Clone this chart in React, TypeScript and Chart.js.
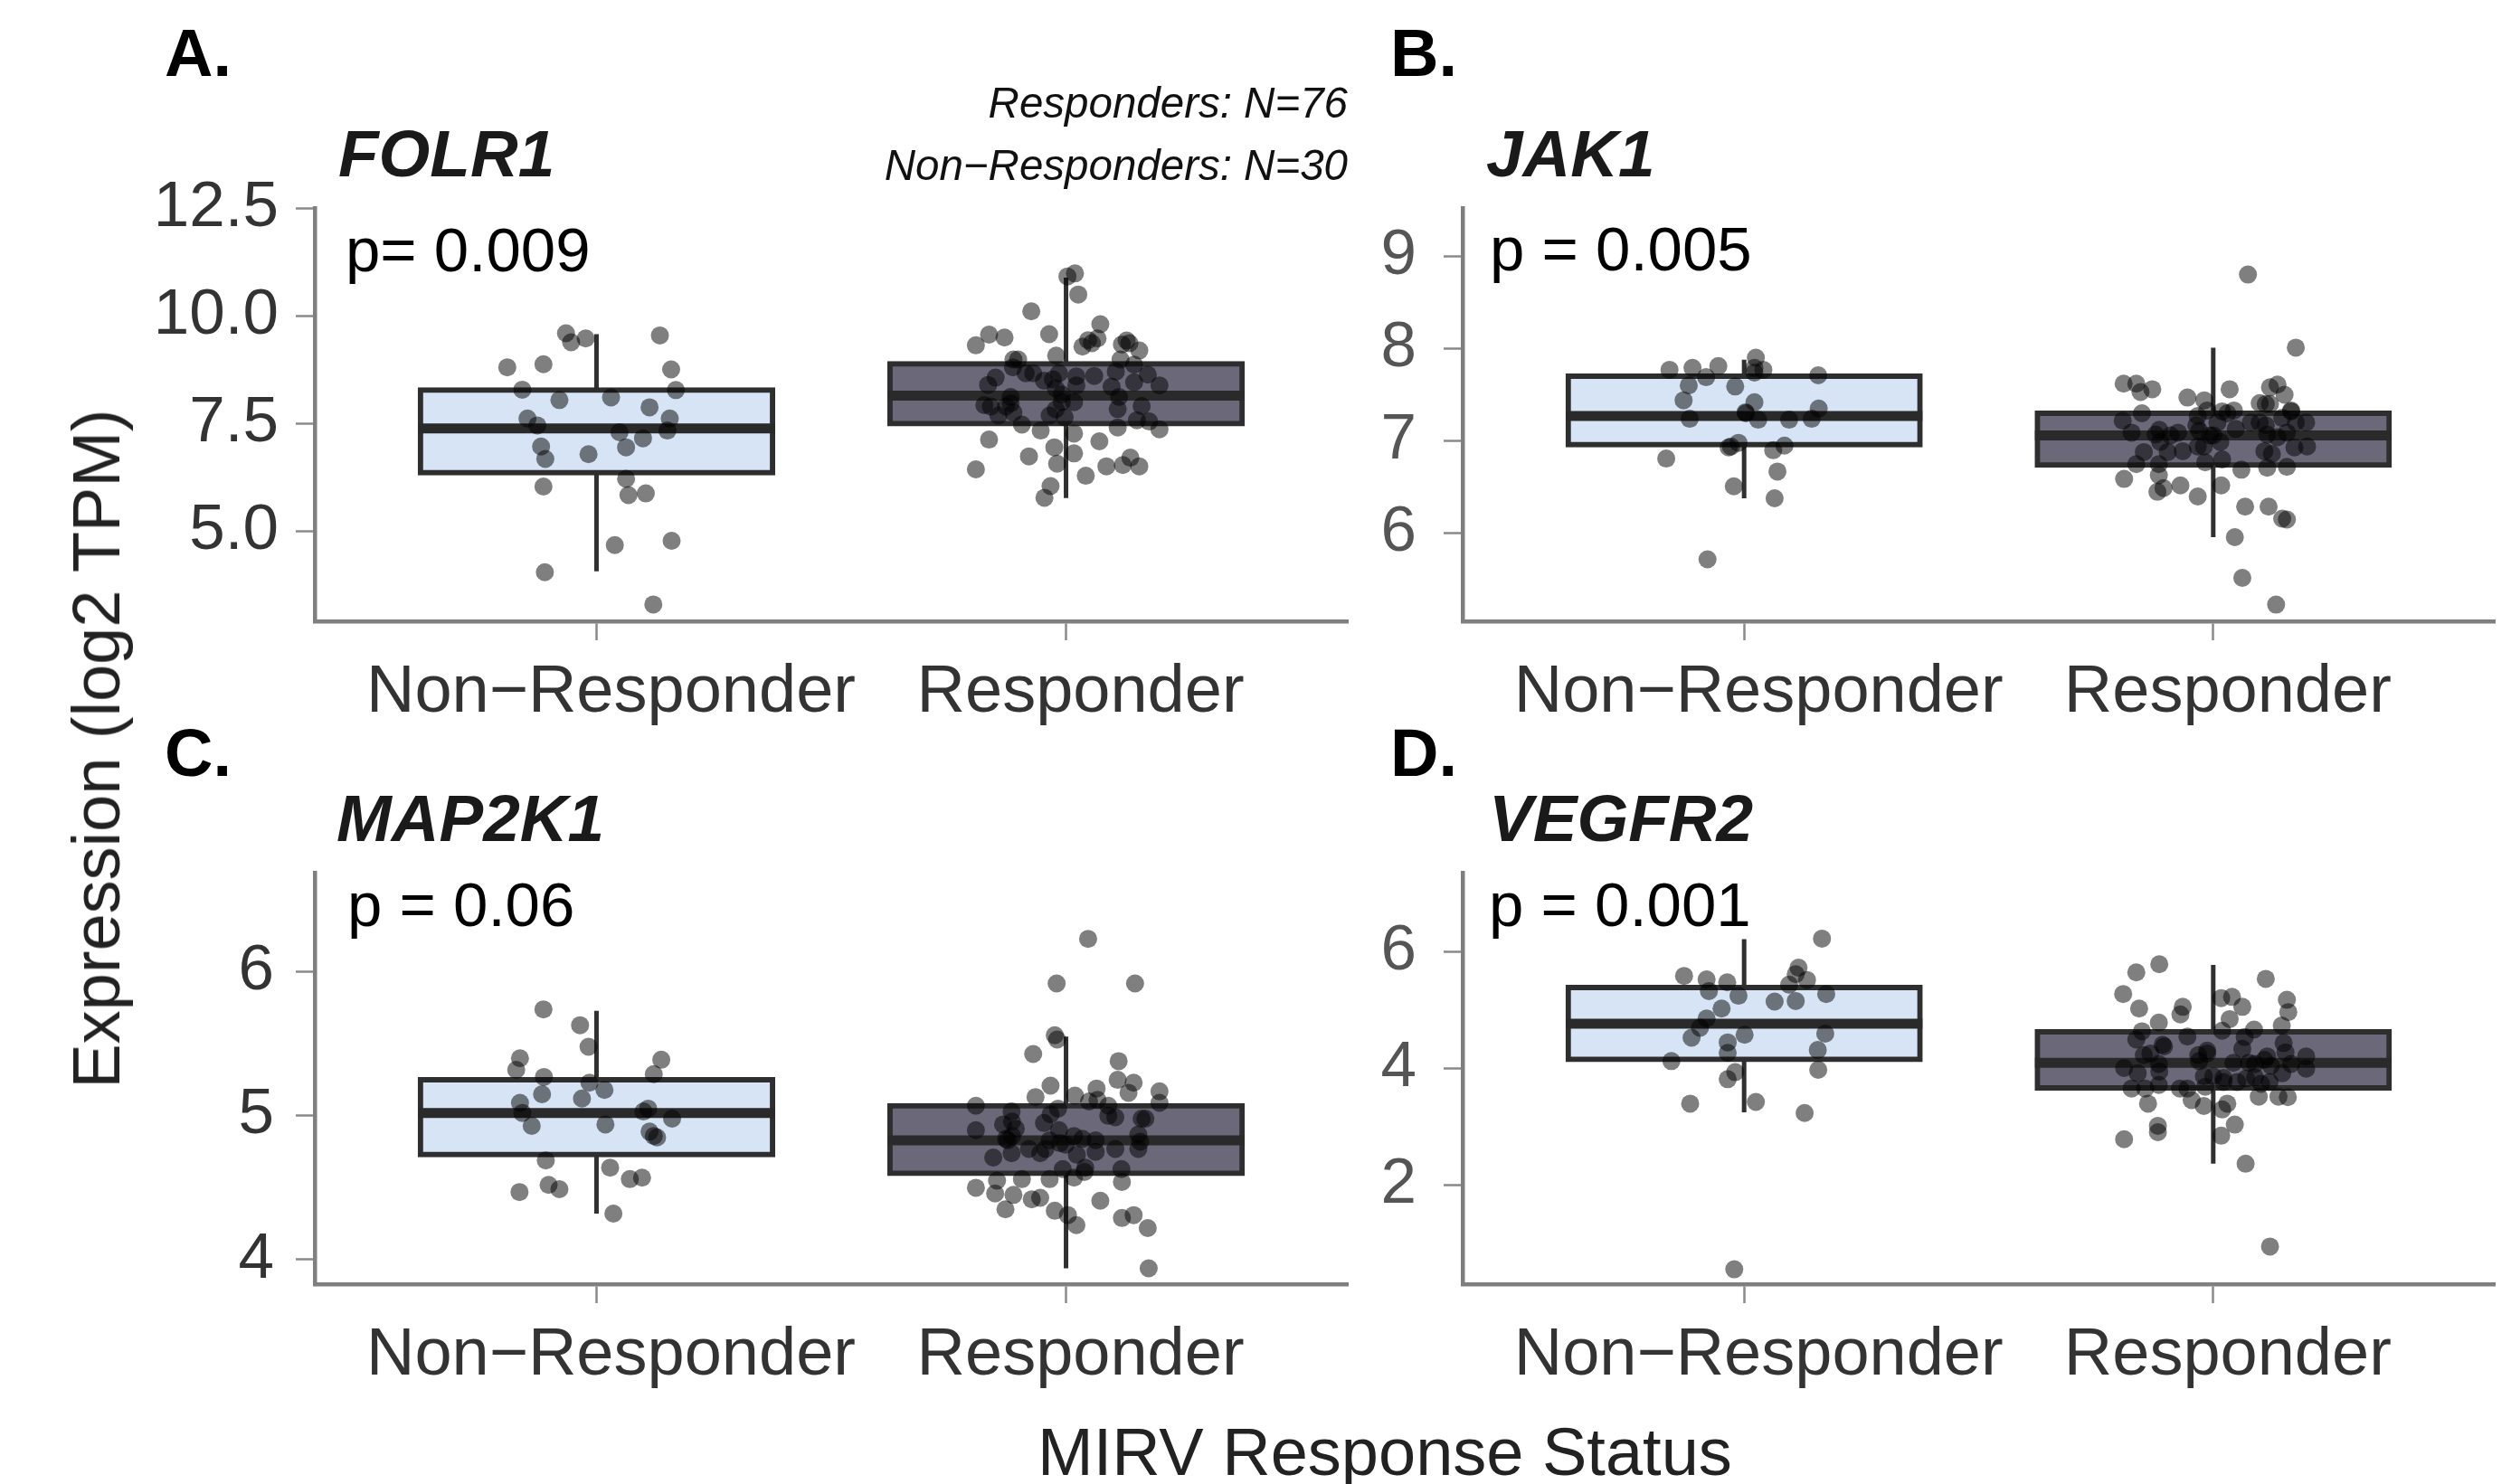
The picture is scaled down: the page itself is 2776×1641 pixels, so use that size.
import React, { useEffect, useRef } from 'react';
import { Chart, registerables } from 'chart.js';

Chart.register(...registerables);

// ---------------- data ----------------
const categories = ['Non\u2212Responder', 'Responder'];

// box stats: [lower whisker, Q1, median, Q3, upper whisker]
// Panel A - FOLR1
const folr1Ticks = [5, 7.5, 10, 12.5];
const folr1NonResponderBox = [4.06, 6.35, 7.38, 8.27, 9.57];
const folr1ResponderBox = [5.76, 7.49, 8.14, 8.88, 10.88];
const folr1NonResponder = [9.59, 9.38, 9.47, 9.54, 8.8, 8.87, 8.75, 8.28, 8.27, 8.04, 8.1, 7.87, 7.61, 7.45, 7.61, 7.33, 7.29, 7.15, 6.94, 6.96, 6.67, 6.78, 6.03, 6.21, 5.83, 5.87, 4.67, 4.77, 4.04, 3.29];
const folr1NonResponderJitter = [-0.065, -0.054, -0.023, 0.135, -0.19, -0.113, 0.159, -0.158, 0.169, -0.079, 0.031, 0.113, -0.147, -0.126, 0.156, 0.151, 0.049, 0.099, 0.063, -0.118, -0.109, -0.017, -0.113, 0.063, 0.068, 0.105, 0.039, 0.16, -0.11, 0.121];
const folr1Responder = [10.91, 10.98, 10.49, 10.1, 9.8, 9.56, 9.49, 9.31, 9.57, 9.43, 9.47, 9.28, 9.42, 9.33, 9.19, 9.07, 8.98, 8.98, 8.98, 8.86, 8.8, 8.66, 8.56, 8.39, 8.52, 8.66, 8.59, 8.6, 8.7, 8.63, 8.38, 8.35, 8.45, 8.38, 8.31, 8.17, 8.11, 8.11, 7.92, 7.89, 7.96, 7.99, 7.99, 7.83, 7.9, 7.68, 7.75, 7.68, 7.64, 7.57, 7.54, 7.47, 7.33, 7.4, 7.36, 7.12, 7.26, 7.08, 6.94, 6.73, 6.8, 6.56, 6.5, 6.53, 6.7, 6.5, 6.43, 6.28, 6.04, 5.77, 7.82, 8.49, 9.36, 8.66, 9.36, 7.89];
const folr1ResponderJitter = [0.003, 0.019, 0.026, -0.074, 0.073, -0.164, -0.131, -0.192, -0.036, 0.047, 0.067, 0.035, 0.129, 0.119, 0.156, -0.021, -0.112, -0.102, 0.116, 0.145, -0.113, -0.07, -0.15, -0.166, -0.028, -0.015, 0.022, 0.06, 0.106, 0.174, 0.199, 0.097, 0.145, 0.022, -0.022, -0.009, -0.118, 0.113, -0.174, -0.16, -0.118, -0.009, 0.017, 0.11, 0.161, -0.144, -0.112, -0.035, -0.003, 0.151, 0.177, -0.094, -0.054, 0.11, 0.199, -0.164, 0.017, 0.071, -0.025, -0.079, 0.017, -0.019, 0.086, 0.121, 0.137, 0.156, -0.192, 0.042, -0.033, -0.046, -0.022, -0.047, 0.055, -0.086, 0.135, -0.128];

// Panel B - JAK1
const jak1Ticks = [6, 7, 8, 9];
const jak1NonResponderBox = [6.38, 6.96, 7.27, 7.7, 7.88];
const jak1ResponderBox = [5.96, 6.74, 7.06, 7.3, 8.01];
const jak1NonResponder = [7.77, 7.79, 7.81, 7.69, 7.9, 7.74, 7.77, 7.71, 7.6, 7.59, 7.44, 7.42, 7.35, 7.24, 7.31, 7.23, 7.23, 7.24, 6.93, 6.98, 6.9, 6.95, 6.81, 6.67, 6.51, 6.38, 5.72, 7.79, 7.3, 6.94];
const jak1NonResponderJitter = [-0.159, -0.11, -0.055, -0.081, 0.025, 0.022, 0.041, 0.158, -0.118, -0.019, -0.129, 0.022, 0.159, -0.116, 0.003, 0.03, 0.096, 0.144, -0.033, -0.012, 0.062, 0.086, -0.166, 0.071, -0.022, 0.065, -0.078, 0.022, 0.004, -0.028];
const jak1Responder = [8.8, 8.01, 7.62, 7.62, 7.56, 7.53, 7.47, 7.44, 7.56, 7.58, 7.61, 7.5, 7.41, 7.4, 7.4, 7.32, 7.3, 7.22, 7.27, 7.33, 7.32, 7.33, 7.2, 7.25, 7.17, 7.09, 7.12, 7.09, 7.11, 7.06, 7.2, 7.13, 7.09, 6.88, 6.99, 6.88, 6.89, 6.94, 6.99, 6.89, 6.86, 6.93, 6.94, 6.75, 6.75, 6.77, 6.8, 6.69, 6.71, 6.72, 6.59, 6.63, 6.45, 6.49, 6.52, 6.4, 6.52, 6.29, 6.29, 6.16, 6.15, 5.96, 5.52, 5.23, 7.07, 7.04, 7.17, 7.06, 7.06, 7.07, 7.2, 7.2, 7.2, 7.3, 6.94, 7.33];
const jak1ResponderJitter = [0.074, 0.176, -0.191, -0.164, -0.13, -0.155, -0.055, -0.019, 0.035, 0.121, 0.137, 0.152, 0.099, 0.112, 0.121, 0.166, -0.152, -0.193, -0.033, -0.013, 0.019, 0.044, 0.198, 0.147, 0.112, -0.174, -0.115, -0.075, -0.03, -0.007, 0.009, 0.048, 0.157, -0.148, -0.113, -0.097, -0.065, -0.033, 0.015, 0.109, 0.125, 0.173, 0.2, -0.164, -0.116, -0.017, 0.019, 0.06, 0.115, 0.157, -0.19, -0.116, -0.119, -0.106, -0.07, -0.033, 0.017, 0.068, 0.118, 0.147, 0.157, 0.046, 0.062, 0.134, 0.115, 0.137, -0.036, 0.0, -0.091, -0.123, 0.176, 0.08, 0.099, 0.03, -0.02, 0.166];

// Panel C - MAP2K1
const map2k1Ticks = [4, 5, 6];
const map2k1NonResponderBox = [4.32, 4.73, 5.02, 5.25, 5.73];
const map2k1ResponderBox = [3.94, 4.6, 4.83, 5.07, 5.55];
const map2k1NonResponder = [5.74, 5.63, 5.48, 5.4, 5.32, 5.39, 5.29, 5.27, 5.23, 5.18, 5.15, 5.12, 5.09, 5.02, 4.93, 4.94, 5.03, 5.05, 4.98, 4.89, 4.86, 4.85, 4.69, 4.64, 4.56, 4.57, 4.47, 4.52, 4.49, 4.32];
const map2k1NonResponderJitter = [-0.113, -0.035, -0.017, -0.163, -0.171, 0.138, 0.122, -0.112, -0.015, 0.017, -0.116, -0.031, -0.163, -0.158, -0.138, 0.019, 0.1, 0.11, 0.161, 0.113, 0.122, 0.129, -0.108, 0.029, 0.071, 0.097, -0.164, -0.102, -0.079, 0.036];
const map2k1Responder = [6.23, 5.92, 5.92, 5.56, 5.53, 5.43, 5.38, 5.21, 5.25, 5.23, 5.17, 5.09, 5.13, 5.14, 5.19, 5.16, 5.1, 5.11, 5.07, 5.07, 5.03, 5.05, 5.01, 4.99, 4.98, 4.98, 4.95, 4.96, 4.9, 4.91, 4.9, 4.86, 4.84, 4.86, 4.83, 4.83, 4.81, 4.84, 4.83, 4.87, 4.82, 4.77, 4.77, 4.74, 4.74, 4.71, 4.8, 4.73, 4.75, 4.77, 4.63, 4.64, 4.63, 4.61, 4.55, 4.56, 4.56, 4.57, 4.54, 4.5, 4.46, 4.45, 4.42, 4.43, 4.41, 4.35, 4.34, 4.31, 4.24, 4.29, 4.31, 4.22, 3.94, 5.0, 4.94, 4.77];
const map2k1ResponderJitter = [0.047, -0.02, 0.147, -0.024, -0.019, -0.07, 0.112, -0.033, 0.11, 0.144, 0.199, 0.199, -0.065, 0.019, 0.065, 0.133, 0.049, 0.067, 0.09, -0.192, -0.116, -0.017, -0.033, 0.105, 0.161, 0.169, -0.047, -0.115, -0.192, -0.107, -0.015, 0.017, -0.128, -0.115, -0.124, -0.035, -0.013, 0.035, 0.063, 0.154, 0.158, 0.154, -0.079, -0.055, -0.116, -0.155, -0.001, 0.023, 0.063, 0.105, -0.007, 0.041, 0.118, 0.039, -0.147, -0.094, -0.035, 0.017, 0.119, -0.192, -0.151, -0.112, -0.073, -0.055, 0.073, -0.129, -0.024, 0.004, 0.022, 0.119, 0.144, 0.174, 0.176, 0.09, -0.134, -0.044];

// Panel D - VEGFR2
const vegfr2Ticks = [2, 4, 6];
const vegfr2NonResponderBox = [3.24, 4.15, 4.76, 5.38, 6.21];
const vegfr2ResponderBox = [2.36, 3.66, 4.09, 4.62, 5.77];
const vegfr2NonResponder = [6.22, 5.58, 5.52, 5.47, 5.32, 5.24, 5.72, 5.61, 5.51, 5.43, 5.27, 5.14, 5.15, 5.02, 4.85, 4.69, 4.52, 4.57, 4.44, 4.26, 4.59, 4.31, 4.12, 3.97, 3.93, 3.81, 3.39, 3.42, 3.23, 0.55];
const vegfr2NonResponderJitter = [0.166, -0.128, -0.08, -0.036, -0.075, -0.012, 0.116, 0.11, 0.134, 0.096, 0.175, 0.065, 0.11, -0.048, -0.08, -0.094, -0.112, 0.001, -0.035, -0.035, 0.173, 0.157, -0.155, 0.158, -0.019, -0.035, -0.115, 0.025, 0.129, -0.021];
const vegfr2Responder = [5.78, 5.64, 5.53, 5.27, 5.02, 5.05, 4.92, 5.2, 5.22, 5.05, 4.84, 5.17, 4.96, 4.78, 4.63, 4.64, 4.66, 4.73, 4.49, 4.54, 4.4, 4.37, 4.43, 4.25, 4.3, 4.33, 4.2, 4.27, 4.2, 4.12, 4.09, 4.09, 4.14, 4.04, 4.0, 3.91, 3.94, 3.86, 3.83, 3.82, 3.91, 3.99, 3.65, 3.65, 3.71, 3.65, 3.68, 3.76, 3.73, 3.76, 3.39, 3.35, 3.29, 3.39, 3.51, 3.51, 3.5, 3.01, 2.9, 2.78, 3.03, 2.84, 2.36, 0.94, 4.25, 4.22, 4.07, 4.07, 4.22, 3.65, 3.76, 4.07, 3.84, 3.86, 3.45, 4.53];
const vegfr2ResponderJitter = [-0.115, -0.164, 0.112, -0.192, -0.158, -0.065, -0.07, 0.017, 0.04, 0.062, 0.035, 0.157, 0.16, -0.116, -0.152, 0.019, 0.087, 0.146, -0.164, -0.055, -0.108, -0.105, 0.15, -0.134, -0.013, 0.062, 0.115, 0.154, 0.198, -0.03, 0.043, 0.076, 0.109, 0.123, -0.19, -0.161, -0.115, -0.02, 0.022, 0.07, 0.147, 0.198, -0.174, -0.145, -0.116, -0.055, -0.017, 0.051, 0.102, 0.12, -0.139, -0.02, 0.019, 0.03, 0.097, 0.139, 0.159, -0.118, -0.118, -0.19, 0.046, 0.017, 0.069, 0.121, -0.013, -0.032, 0.089, -0.116, -0.148, -0.071, 0.022, 0.166, 0.089, 0.0, -0.046, 0.067];

// ---------------- styles / layout ----------------
const FONT = "'Liberation Sans', Arial, Helvetica, sans-serif";
const BOX_FILLS = ['#D6E4F5', '#6B687A'];
const BOX_WIDTH = 0.75;
const BOX_BORDER = 6;
const Y_AXIS_W = 220;
const X_AXIS_H = 150;
const PAD_TOP = 100;
const PAD_RIGHT = 18;

type PanelSpec = {
  area: { left: number; top: number; right: number; bottom: number };
  yMin: number;
  yMax: number;
  yTicks: number[];
  decimals: number;
  boxes: number[][];
  values: number[][];
  jitter: number[][];
  tickColor: string;
  tickPad: number;
};

const panels: PanelSpec[] = [
  {
    area: { left: 348, top: 230, right: 1490, bottom: 687 },
    yMin: 2.9, yMax: 12.5, yTicks: folr1Ticks, decimals: 1,
    boxes: [folr1NonResponderBox, folr1ResponderBox],
    values: [folr1NonResponder, folr1Responder],
    jitter: [folr1NonResponderJitter, folr1ResponderJitter],
    tickColor: '#333333', tickPad: 19,
  },
  {
    area: { left: 1617, top: 230, right: 2758, bottom: 687 },
    yMin: 5.05, yMax: 9.52, yTicks: jak1Ticks, decimals: 0,
    boxes: [jak1NonResponderBox, jak1ResponderBox],
    values: [jak1NonResponder, jak1Responder],
    jitter: [jak1NonResponderJitter, jak1ResponderJitter],
    tickColor: '#555555', tickPad: 30,
  },
  {
    area: { left: 348, top: 965, right: 1490, bottom: 1420 },
    yMin: 3.83, yMax: 6.69, yTicks: map2k1Ticks, decimals: 0,
    boxes: [map2k1NonResponderBox, map2k1ResponderBox],
    values: [map2k1NonResponder, map2k1Responder],
    jitter: [map2k1NonResponderJitter, map2k1ResponderJitter],
    tickColor: '#333333', tickPad: 24,
  },
  {
    area: { left: 1617, top: 965, right: 2758, bottom: 1420 },
    yMin: 0.295, yMax: 7.35, yTicks: vegfr2Ticks, decimals: 0,
    boxes: [vegfr2NonResponderBox, vegfr2ResponderBox],
    values: [vegfr2NonResponder, vegfr2Responder],
    jitter: [vegfr2NonResponderJitter, vegfr2ResponderJitter],
    tickColor: '#555555', tickPad: 30,
  },
];

function BoxPanel({ spec }: { spec: PanelSpec }) {
  const ref = useRef<HTMLCanvasElement>(null);
  const { area } = spec;
  const width = Y_AXIS_W + (area.right - area.left) + PAD_RIGHT;
  const height = PAD_TOP + (area.bottom - area.top) + X_AXIS_H;

  useEffect(() => {
    const canvas = ref.current;
    if (!canvas) return;
    const datasets: any[] = [];
    // whiskers (behind the boxes)
    spec.boxes.forEach((b, i) => {
      datasets.push({
        type: 'line',
        data: [{ x: i + 1, y: b[0] }, { x: i + 1, y: b[4] }],
        borderColor: '#303030',
        borderWidth: 5,
        pointRadius: 0,
        borderCapStyle: 'butt',
        fill: false,
        order: 3,
      });
    });
    // boxes Q1..Q3 (border centred on the box edge via inflateAmount)
    datasets.push({
      type: 'bar',
      data: spec.boxes.map((b, i) => ({ x: i + 1, y: [b[1], b[3]] })),
      backgroundColor: BOX_FILLS,
      borderColor: '#2e2e2e',
      borderWidth: BOX_BORDER,
      inflateAmount: BOX_BORDER / 2,
      borderSkipped: false,
      barPercentage: BOX_WIDTH,
      categoryPercentage: 1,
      order: 2,
    });
    // medians
    const half = BOX_WIDTH / 2 + 0.005;
    spec.boxes.forEach((b, i) => {
      datasets.push({
        type: 'line',
        data: [{ x: i + 1 - half, y: b[2] }, { x: i + 1 + half, y: b[2] }],
        borderColor: '#2a2a2a',
        borderWidth: 11,
        pointRadius: 0,
        borderCapStyle: 'butt',
        fill: false,
        order: 1,
      });
    });
    // jittered points
    spec.values.forEach((vals, i) => {
      datasets.push({
        type: 'scatter',
        data: vals.map((v, k) => ({ x: i + 1 + (spec.jitter[i][k] ?? 0), y: v })),
        backgroundColor: 'rgba(0,0,0,0.5)',
        borderWidth: 0,
        pointBorderWidth: 0,
        pointRadius: 10,
        pointHoverRadius: 10,
        order: 0,
      });
    });

    const gridOpts = {
      display: true,
      drawOnChartArea: false,
      drawTicks: true,
      tickLength: 21,
      tickColor: '#8a8a8a',
      tickWidth: 2.5,
      offset: false,
    };
    const borderOpts = { display: true, color: '#7f7f7f', width: 4.5 };

    const chart = new Chart(canvas, {
      type: 'scatter',
      data: { datasets },
      options: {
        responsive: false,
        animation: false,
        devicePixelRatio: 1,
        events: [],
        layout: { padding: { top: PAD_TOP, right: PAD_RIGHT, left: 0, bottom: 0 } },
        plugins: { legend: { display: false }, tooltip: { enabled: false } },
        scales: {
          x: {
            type: 'linear',
            min: 0.4,
            max: 2.6,
            offset: false,
            afterBuildTicks: (s: any) => {
              s.ticks = categories.map((_, i) => ({ value: i + 1 }));
            },
            afterFit: (s: any) => {
              s.height = X_AXIS_H;
            },
            grid: gridOpts,
            border: borderOpts,
            ticks: {
              color: '#333333',
              font: { family: FONT, size: 74, lineHeight: 1.2 },
              padding: 14,
              labelOffset: 16,
              maxRotation: 0,
              minRotation: 0,
              autoSkip: false,
              callback: (v: any) => categories[Math.round(Number(v)) - 1] ?? '',
            },
          },
          y: {
            type: 'linear',
            min: spec.yMin,
            max: spec.yMax,
            beginAtZero: false,
            afterBuildTicks: (s: any) => {
              s.ticks = spec.yTicks.map((v) => ({ value: v }));
            },
            afterFit: (s: any) => {
              s.width = Y_AXIS_W;
            },
            grid: gridOpts,
            border: borderOpts,
            ticks: {
              color: spec.tickColor,
              font: { family: FONT, size: 71, lineHeight: 1.2 },
              padding: spec.tickPad,
              autoSkip: false,
              callback: (v: any) => Number(v).toFixed(spec.decimals),
            },
          },
        },
      } as any,
    });
    return () => chart.destroy();
  }, [spec]);

  return (
    <canvas
      ref={ref}
      width={width}
      height={height}
      style={{
        position: 'absolute',
        left: area.left - Y_AXIS_W,
        top: area.top - PAD_TOP,
        width,
        height,
      }}
    />
  );
}

type TxtProps = {
  x: number;
  baseline: number;
  size: number;
  text: string;
  weight?: string;
  italic?: boolean;
  color?: string;
  alignRight?: boolean;
};

function Txt({ x, baseline, size, text, weight = 'normal', italic = false, color = '#000', alignRight = false }: TxtProps) {
  const top = baseline - 0.8465 * size;
  const style: React.CSSProperties = {
    position: 'absolute',
    top,
    fontFamily: FONT,
    fontSize: size,
    lineHeight: `${size}px`,
    fontWeight: weight as any,
    fontStyle: italic ? 'italic' : 'normal',
    color,
    whiteSpace: 'nowrap',
    margin: 0,
  };
  if (alignRight) style.right = 2776 - x;
  else style.left = x;
  return <div style={style}>{text}</div>;
}

export default function App() {
  useEffect(() => {
    document.body.style.overflow = 'hidden';
    document.documentElement.style.overflow = 'hidden';
  }, []);

  return (
    <div
      style={{
        position: 'absolute',
        left: 0,
        top: 0,
        width: 2776,
        height: 1641,
        background: '#ffffff',
        overflow: 'hidden',
        fontFamily: FONT,
      }}
    >
      {panels.map((p, i) => (
        <BoxPanel key={i} spec={p} />
      ))}

      <Txt x={182} baseline={85} size={74} text="A." weight="bold" />
      <Txt x={1537} baseline={85} size={74} text="B." weight="bold" />
      <Txt x={182} baseline={859} size={74} text="C." weight="bold" />
      <Txt x={1537} baseline={859} size={74} text="D." weight="bold" />

      <Txt x={374} baseline={195} size={73} text="FOLR1" weight="bold" italic color="#1a1a1a" />
      <Txt x={1643} baseline={195} size={73} text="JAK1" weight="bold" italic color="#1a1a1a" />
      <Txt x={372} baseline={930} size={73} text="MAP2K1" weight="bold" italic color="#1a1a1a" />
      <Txt x={1646} baseline={930} size={73} text="VEGFR2" weight="bold" italic color="#1a1a1a" />

      <Txt x={382} baseline={300} size={69} text="p= 0.009" />
      <Txt x={1647} baseline={299} size={69} text="p = 0.005" />
      <Txt x={384} baseline={1024} size={69} text="p = 0.06" />
      <Txt x={1646} baseline={1024} size={69} text="p = 0.001" />

      <Txt x={1490} baseline={130} size={47.5} text="Responders: N=76" italic color="#111" alignRight />
      <Txt x={1490} baseline={199} size={47.5} text={'Non\u2212Responders: N=30'} italic color="#111" alignRight />

      <Txt x={1147} baseline={1632} size={74} text="MIRV Response Status" color="#222" />

      <div
        style={{
          position: 'absolute',
          left: 107,
          top: 828,
          transform: 'translate(-50%, -50%) rotate(-90deg)',
          fontFamily: FONT,
          fontSize: 74,
          lineHeight: '74px',
          color: '#222',
          whiteSpace: 'nowrap',
        }}
      >
        Expression (log2 TPM)
      </div>
    </div>
  );
}
